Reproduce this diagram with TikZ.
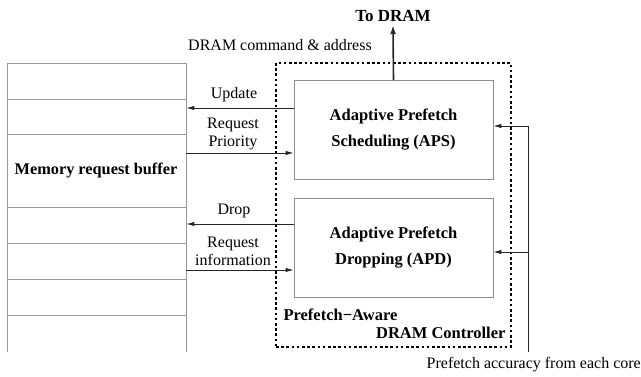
\documentclass[tikz,border=0pt]{standalone}
\usepackage{fontspec}
\setmainfont{Liberation Serif}
\usetikzlibrary{arrows.meta,positioning}
\tikzset{
  unitbox/.style={draw=black!45, line width=0.8pt, minimum width=199pt, minimum height=99pt,
    font=\fontsize{16.5}{20}\selectfont\bfseries, align=center},
  sig/.style={-{Latex[length=8pt,width=4.5pt]}, line width=0.9pt, draw=black!85},
  siglabel/.style={font=\fontsize{16}{18}\selectfont, align=center, inner sep=1pt},
  rowline/.style={draw=black!40, line width=0.8pt},
}
\begin{document}
\begin{tikzpicture}[x=1pt,y=-1pt]
  \useasboundingbox (0,0) rectangle (641,377);

  % Memory request buffer
  \node[minimum width=179pt, minimum height=289pt, inner sep=0pt, anchor=north west] (buf) at (7,63) {};
  \draw[rowline] (buf.north west) -- (buf.south west);
  \draw[rowline] (buf.north east) -- (buf.south east);
  \foreach \y in {63,99,134,207,243,279,315}
    \draw[rowline] (buf.west |- 0,\y) -- (buf.east |- 0,\y);
  \node[font=\fontsize{16.3}{18}\selectfont\bfseries] (buflabel) at (96,171) {Memory request buffer};

  % Controller
  \node[draw, line width=2.6pt, dash pattern=on 2.6pt off 2.6pt, minimum width=235pt, minimum height=284pt,
        inner sep=0pt] (ctrl) at (393.5,205) {};
  \node[unitbox] (aps) at (393.5,130) {Adaptive Prefetch\\[6pt]Scheduling (APS)};
  \node[unitbox] (apd) at (393.5,247.5) {Adaptive Prefetch\\[6pt]Dropping (APD)};
  \node[font=\fontsize{16.5}{18}\selectfont\bfseries, anchor=west] (pa) at (280,315) {Prefetch−Aware};
  \node[font=\fontsize{16.5}{18}\selectfont\bfseries, anchor=east] (dc) at (509,333) {DRAM Controller};

  % To DRAM
  \node[font=\fontsize{17}{18}\selectfont\bfseries] (todram) at (393,16) {To DRAM};
  \draw[sig, line width=1.6pt, -{Latex[length=9pt,width=6pt]}] (aps.north) -- (todram.south);
  \node[siglabel] (cmd) at (280,45) {DRAM command \& address};

  % Buffer <-> controller
  \draw[sig] (aps.west |- 0,108) -- (buf.east |- 0,108);
  \node[siglabel] (upd) at (234,95) {Update};
  \draw[sig] (buf.east |- 0,153) -- (aps.west |- 0,153);
  \node[siglabel] (prio) at (233,134) {Request\\Priority};
  \draw[sig] (apd.west |- 0,224) -- (buf.east |- 0,224);
  \node[siglabel] (drop) at (234,211) {Drop};
  \draw[sig] (buf.east |- 0,270) -- (apd.west |- 0,270);
  \node[siglabel] (info) at (233,251) {Request\\information};

  % Prefetch accuracy feedback
  \coordinate (acc) at (528,352);
  \coordinate (accaps) at (528,126);
  \draw[line width=0.9pt, draw=black!85] (acc) -- (accaps);
  \draw[sig] (accaps) -- (accaps -| aps.east);
  \draw[sig] (acc |- 0,252) -- (apd.east |- 0,252);
  \node[siglabel, anchor=east, inner sep=0pt] (acclabel) at (641,365) {Prefetch accuracy from each core};
\end{tikzpicture}
\end{document}
